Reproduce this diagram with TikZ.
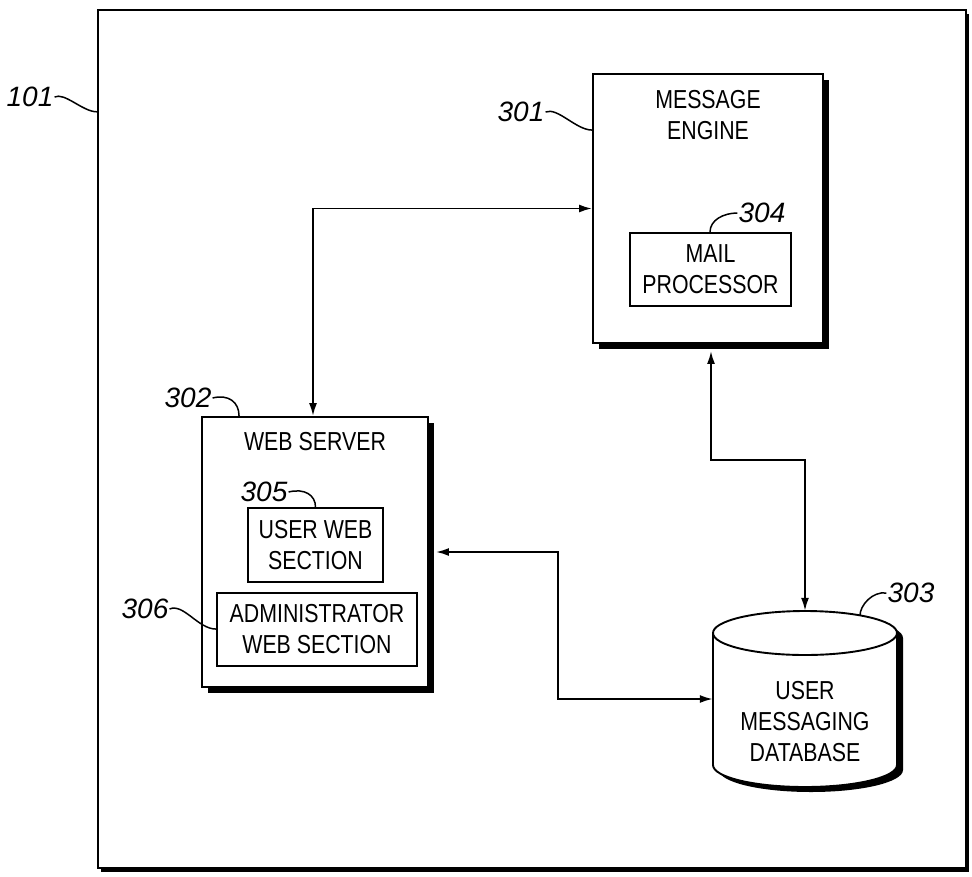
\documentclass[tikz,border=0pt]{standalone}
\usepackage{fontspec}
\setmainfont{Liberation Sans}[FakeStretch=0.82]
\newfontfamily\numfont{Liberation Sans}
\usetikzlibrary{arrows.meta,shadows}

\begin{document}
\begin{tikzpicture}[x=1pt, y=-1pt,
  box/.style={draw, line width=1.9pt, fill=white, inner sep=0pt,
    font=\fontsize{26}{31}\selectfont, align=center},
  shbox/.style={box, drop shadow={shadow xshift=6pt, shadow yshift=-6pt,
    fill=black, opacity=1}},
  txt/.style={font=\fontsize{26}{31}\selectfont, align=center, inner sep=0pt},
  num/.style={font=\fontsize{28}{30}\numfont\itshape, inner sep=1pt},
  leader/.style={line width=1.5pt},
  link/.style={{Latex[length=13pt,width=8pt]}-{Latex[length=13pt,width=8pt]},
    line width=1.9pt}]
  \useasboundingbox (0,0) rectangle (972,876);
  % system 101
  \node[draw, line width=2.4pt, fill=white, inner sep=0pt,
    minimum width=868pt, minimum height=858pt,
    drop shadow={shadow xshift=3pt, shadow yshift=-4pt, fill=black, opacity=1}]
    (frame) at (532,439) {};
  % message engine 301 with mail processor 304
  \node[shbox, minimum width=230pt, minimum height=269pt] (engine) at (708,208.5) {};
  \node[txt] at ([yshift=-41.5pt]engine.north) {MESSAGE\\ENGINE};
  \node[box, minimum width=161pt, minimum height=73pt] (mailproc) at (710.5,269.5)
    {MAIL\\PROCESSOR};
  % web server 302 with sections 305, 306
  \node[shbox, minimum width=226pt, minimum height=270pt] (websrv) at (315,552) {};
  \node[txt] at ([yshift=-25pt]websrv.north) {WEB SERVER};
  \node[box, minimum width=135pt, minimum height=74pt] (userweb) at (315.5,545)
    {USER WEB\\SECTION};
  \node[box, minimum width=200pt, minimum height=73pt] (adminweb) at (317,629.5)
    {ADMINISTRATOR\\WEB SECTION};
  % user messaging database 303
  \node[minimum width=184pt, minimum height=176pt, inner sep=0pt] (db) at (805,699) {};
  \begin{scope}[shift={(db.center)}]
    \fill[black, shift={(6,5)}] (-92,-66) -- (-92,66)
      arc[start angle=180, end angle=0, x radius=92, y radius=22] -- (92,-66)
      arc[start angle=0, end angle=-180, x radius=92, y radius=22] -- cycle;
    \filldraw[fill=white, line width=1.9pt] (-92,-66) -- (-92,66)
      arc[start angle=180, end angle=0, x radius=92, y radius=22] -- (92,-66)
      arc[start angle=0, end angle=-180, x radius=92, y radius=22] -- cycle;
    \draw[line width=1.9pt] (-92,-66)
      arc[start angle=180, end angle=0, x radius=92, y radius=22];
    \coordinate (dbrim) at (55,-83.6);
  \end{scope}
  \node[txt] at ([yshift=-23pt]db.center) {USER\\MESSAGING\\DATABASE};
  % connectors
  \coordinate (bendB) at (760,460);
  \coordinate (bendC) at (558,620);
  \draw[link] ([xshift=-2pt]websrv.north) |- (engine.west);
  \draw[link] ([xshift=3pt,yshift=-7pt]engine.south) |- (bendB) -| (db.north);
  \draw[link] ([xshift=7pt]websrv.east) -| (bendC) |- (db.west);
  % reference numerals
  \node[num] (n101) at (30,97) {101};
  \node[num] (n301) at (521,112) {301};
  \node[num] (n304) at (762,213) {304};
  \node[num] (n302) at (188,398) {302};
  \node[num] (n305) at (264,492) {305};
  \node[num] (n306) at (145,609) {306};
  \node[num] (n303) at (911,593) {303};
  \draw[leader] (n101.east) .. controls +(10,-5) and +(-14,0) .. ([yshift=-103pt]frame.north west);
  \draw[leader] (n301.east) .. controls +(12,-5) and +(-16,0) .. ([yshift=-57pt]engine.north west);
  \draw[leader] (n304.west) .. controls +(-14,0) and +(0,-12) .. ([xshift=-0.5pt]mailproc.north);
  \draw[leader] (n302.east) .. controls +(16,-4) and +(0,-14) .. ([xshift=38pt]websrv.north west);
  \draw[leader] (n305.east) .. controls +(16,-4) and +(0,-12) .. (userweb.north);
  \draw[leader] (n306.east) .. controls +(14,-6) and +(-18,0) .. ([yshift=-37pt]adminweb.north west);
  \draw[leader] (n303.west) .. controls +(-14,-2) and +(0,-10) .. (dbrim);
\end{tikzpicture}
\end{document}
